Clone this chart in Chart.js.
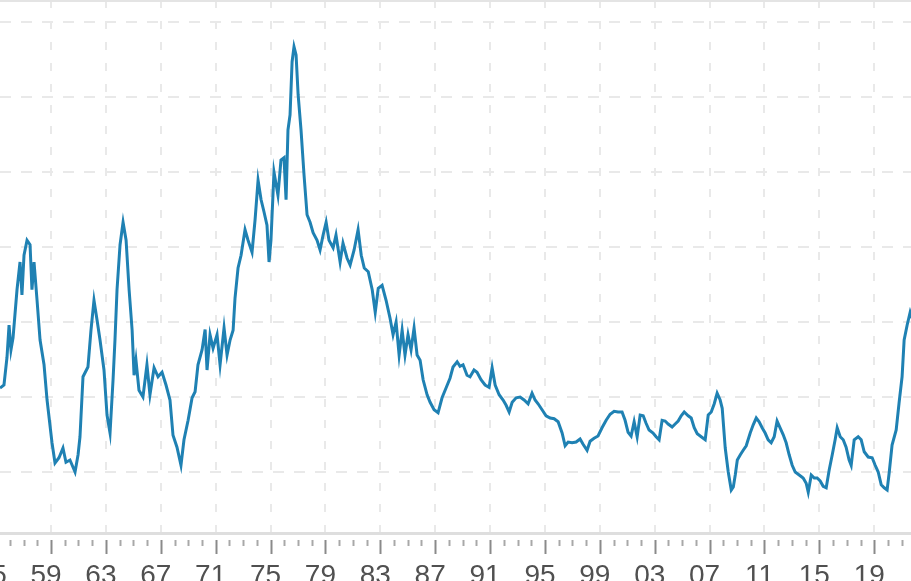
<!DOCTYPE html>
<html>
<head>
<meta charset="utf-8">
<script src="https://cdn.jsdelivr.net/npm/chart.js@4"></script>
<style>
  html, body { margin: 0; padding: 0; background: #fff; }
  canvas { display: block; }
</style>
</head>
<body>
<canvas id="myChart" width="911" height="581"></canvas>
<script>
// values (x = year, y = index level, no y scale shown)
const years = [
  1955.28, 1955.57, 1955.79, 1955.94, 1956.08, 1956.23, 1956.52, 1956.74, 1956.88, 1957.03,
  1957.25, 1957.47, 1957.61, 1957.76, 1957.98, 1958.20, 1958.49, 1958.71, 1959.07, 1959.29,
  1959.58, 1959.87, 1960.09, 1960.38, 1960.75, 1960.97, 1961.11, 1961.33, 1961.69, 1961.91,
  1962.13, 1962.35, 1962.57, 1962.86, 1963.08, 1963.30, 1963.52, 1963.66, 1963.81, 1964.03,
  1964.25, 1964.47, 1964.69, 1964.91, 1965.05, 1965.19, 1965.41, 1965.70, 1965.99, 1966.21,
  1966.51, 1966.80, 1967.09, 1967.38, 1967.67, 1967.89, 1968.18, 1968.47, 1968.69, 1968.99,
  1969.28, 1969.50, 1969.71, 1970.01, 1970.23, 1970.37, 1970.59, 1970.81, 1971.10, 1971.32,
  1971.61, 1971.83, 1972.05, 1972.27, 1972.41, 1972.63, 1972.85, 1973.14, 1973.36, 1973.65,
  1973.87, 1974.09, 1974.31, 1974.52, 1974.74, 1974.89, 1975.03, 1975.25, 1975.54, 1975.76,
  1975.98, 1976.13, 1976.27, 1976.42, 1976.57, 1976.71, 1976.86, 1977.01, 1977.22, 1977.44,
  1977.66, 1977.88, 1978.10, 1978.39, 1978.61, 1978.83, 1979.05, 1979.26, 1979.56, 1979.77,
  1980.07, 1980.28, 1980.58, 1980.80, 1981.09, 1981.38, 1981.61, 1981.83, 1982.12, 1982.41,
  1982.63, 1982.85, 1983.13, 1983.42, 1983.71, 1983.93, 1984.15, 1984.37, 1984.59, 1984.80,
  1985.02, 1985.24, 1985.46, 1985.68, 1985.90, 1986.12, 1986.41, 1986.63, 1986.92, 1987.21,
  1987.50, 1987.79, 1988.08, 1988.30, 1988.60, 1988.81, 1989.03, 1989.32, 1989.54, 1989.83,
  1990.05, 1990.34, 1990.64, 1990.93, 1991.15, 1991.37, 1991.66, 1991.95, 1992.17, 1992.39,
  1992.61, 1992.90, 1993.19, 1993.48, 1993.77, 1994.06, 1994.28, 1994.50, 1994.79, 1995.08,
  1995.38, 1995.67, 1995.96, 1996.25, 1996.47, 1996.69, 1996.98, 1997.27, 1997.56, 1997.78,
  1998.07, 1998.29, 1998.58, 1998.87, 1999.16, 1999.46, 1999.75, 2000.04, 2000.33, 2000.62,
  2000.84, 2001.06, 2001.28, 2001.50, 2001.72, 2001.94, 2002.16, 2002.37, 2002.59, 2002.88,
  2003.10, 2003.32, 2003.54, 2003.76, 2003.98, 2004.27, 2004.49, 2004.71, 2004.93, 2005.15,
  2005.44, 2005.66, 2005.88, 2006.10, 2006.39, 2006.68, 2006.90, 2007.12, 2007.34, 2007.55,
  2007.77, 2007.92, 2008.14, 2008.36, 2008.58, 2008.73, 2008.87, 2009.02, 2009.24, 2009.45,
  2009.67, 2009.96, 2010.18, 2010.40, 2010.61, 2010.83, 2011.05, 2011.27, 2011.49, 2011.71,
  2011.92, 2012.14, 2012.36, 2012.58, 2012.80, 2013.02, 2013.24, 2013.53, 2013.82, 2014.04,
  2014.19, 2014.41, 2014.63, 2014.84, 2015.06, 2015.28, 2015.50, 2015.72, 2015.94, 2016.15,
  2016.30, 2016.52, 2016.74, 2016.95, 2017.17, 2017.32, 2017.54, 2017.83, 2018.05, 2018.27,
  2018.56, 2018.85, 2019.07, 2019.29, 2019.51, 2019.73, 2019.94, 2020.09, 2020.30, 2020.60,
  2020.81, 2021.03, 2021.18, 2021.40, 2021.62, 2021.77
];
const values = [
  21.2, 21.6, 25.3, 29.6, 26.3, 27.9, 34.3, 38.0, 33.6, 38.9,
  40.9, 40.3, 34.3, 38.0, 32.9, 27.6, 24.3, 19.6, 13.9, 11.2,
  11.9, 13.2, 11.3, 11.6, 10.0, 12.3, 14.7, 22.7, 24.0, 28.9,
  32.9, 30.3, 27.6, 23.6, 17.6, 15.2, 22.3, 27.6, 34.3, 40.3,
  43.3, 40.9, 34.3, 28.9, 22.9, 24.9, 20.9, 20.0, 24.3, 20.3,
  23.9, 22.7, 23.3, 21.6, 19.6, 14.9, 13.3, 10.9, 14.3, 16.9,
  19.9, 20.7, 24.3, 26.3, 29.0, 23.6, 28.3, 26.5, 28.3, 24.3,
  29.2, 25.6, 27.6, 28.9, 33.2, 37.2, 38.9, 42.3, 40.9, 39.3,
  43.6, 48.9, 46.3, 44.7, 42.9, 38.0, 40.9, 50.0, 46.9, 51.6,
  51.9, 46.3, 55.6, 57.6, 64.7, 66.7, 65.6, 60.3, 55.6, 49.6,
  44.3, 43.3, 41.9, 40.9, 39.6, 41.6, 43.3, 40.9, 39.9, 41.6,
  38.0, 40.5, 38.5, 37.6, 39.6, 42.3, 38.9, 37.2, 36.7, 34.3,
  31.3, 34.5, 34.9, 32.9, 30.5, 28.3, 30.0, 25.6, 28.9, 25.6,
  28.3, 26.3, 29.2, 25.6, 24.9, 22.3, 20.3, 19.3, 18.3, 17.9,
  19.9, 21.2, 22.5, 24.0, 24.7, 24.1, 24.3, 22.9, 22.7, 23.6,
  23.3, 22.3, 21.6, 21.3, 23.9, 21.6, 20.3, 19.6, 18.9, 18.0,
  19.3, 19.9, 20.0, 19.6, 19.1, 20.5, 19.6, 19.1, 18.3, 17.5,
  17.2, 17.1, 16.7, 15.2, 13.5, 14.0, 13.9, 14.0, 14.4, 13.7,
  12.9, 14.1, 14.5, 14.8, 15.9, 16.9, 17.7, 18.1, 18.0, 18.0,
  16.9, 15.3, 14.8, 16.7, 14.7, 17.6, 17.5, 16.5, 15.6, 15.2,
  14.7, 14.3, 16.9, 16.8, 16.4, 16.0, 16.4, 16.8, 17.5, 18.0,
  17.5, 17.2, 15.9, 15.1, 14.7, 14.3, 17.6, 18.0, 19.1, 20.5,
  19.6, 18.5, 13.2, 10.0, 7.6, 8.0, 9.6, 11.6, 12.3, 12.9,
  13.5, 15.2, 16.3, 17.2, 16.7, 15.9, 15.2, 14.3, 13.9, 14.7,
  16.8, 15.9, 15.0, 13.9, 12.3, 10.9, 10.0, 9.6, 9.2, 8.5,
  7.3, 9.6, 9.2, 9.2, 8.8, 8.1, 7.9, 10.3, 12.3, 14.3,
  15.9, 14.7, 14.3, 13.3, 11.6, 10.9, 14.3, 14.7, 14.3, 12.7,
  12.0, 11.9, 10.9, 10.0, 8.3, 7.9, 7.6, 9.9, 13.6, 15.6,
  19.2, 22.7, 27.6, 29.6, 31.3, 30.5
];
const majorYears = [1955, 1959, 1963, 1967, 1971, 1975, 1979, 1983, 1987, 1991, 1995, 1999, 2003, 2007, 2011, 2015, 2019];
const tickLabels = ['55', '59', '63', '67', '71', '75', '79', '83', '87', '91', '95', '99', '03', '07', '11', '15', '19'];
const gridValues = [10, 20, 30, 40, 50, 60, 70];

const points = years.map((y, i) => ({ x: y, y: values[i] }));

// year ticks under the axis: long ones at the labelled years, short ones in between
const tickMarks = {
  id: 'tickMarks',
  afterDraw(chart) {
    const ctx = chart.ctx;
    const xs = chart.scales.x;
    const area = chart.chartArea;
    ctx.save();
    ctx.lineWidth = 2;
    xs.ticks.forEach(t => {
      const px = Math.round(xs.getPixelForValue(t.value)) + 0.5;
      const major = majorYears.includes(t.value);
      ctx.strokeStyle = major ? '#8a8a8a' : '#a8a8a8';
      ctx.beginPath();
      ctx.moveTo(px, area.bottom + 7);
      ctx.lineTo(px, area.bottom + (major ? 21 : 13));
      ctx.stroke();
    });
    // faint frame line along the top
    ctx.strokeStyle = '#e4e4e4';
    ctx.beginPath();
    ctx.moveTo(area.left, area.top + 1);
    ctx.lineTo(area.right, area.top + 1);
    ctx.stroke();
    ctx.restore();
  }
};

const ctx = document.getElementById('myChart');
new Chart(ctx, {
  type: 'line',
  data: {
    datasets: [{
      data: points,
      borderColor: '#1f81b3',
      borderWidth: 3,
      pointRadius: 0,
      tension: 0,
      fill: false
    }]
  },
  options: {
    responsive: false,
    animation: false,
    layout: { padding: 0 },
    plugins: { legend: { display: false }, tooltip: { enabled: false } },
    scales: {
      x: {
        type: 'linear',
        min: 1955.28,
        max: 2021.68,
        afterBuildTicks: s => {
          const t = [];
          for (let y = 1955; y <= 2021; y++) t.push({ value: y });
          s.ticks = t;
        },
        afterFit: s => {
          s.height = 48;
          s.paddingLeft = 0;
          s.paddingRight = 0;
        },
        grid: {
          color: c => (c.tick && majorYears.includes(c.tick.value)) ? '#e9e9e9' : 'transparent',
          lineWidth: 2,
          tickLength: 20,
          tickColor: 'transparent'
        },
        border: { display: true, color: '#dedede', width: 3, dash: [8, 13] },
        ticks: {
          autoSkip: false,
          maxRotation: 0,
          padding: 6,
          labelOffset: -5,
          color: '#505050',
          font: { family: 'Liberation Sans, Arial, sans-serif', size: 28 },
          callback: v => {
            const i = majorYears.indexOf(v);
            return i >= 0 ? tickLabels[i] : '';
          }
        }
      },
      y: {
        min: 1.87,
        max: 72.93,
        afterBuildTicks: s => { s.ticks = gridValues.map(v => ({ value: v })); },
        afterFit: s => { s.width = 0; },
        grid: { color: '#e9e9e9', lineWidth: 2, drawTicks: false },
        border: { display: false, dash: [11, 10] },
        ticks: { display: false }
      }
    }
  },
  plugins: [tickMarks]
});
</script>
</body>
</html>
